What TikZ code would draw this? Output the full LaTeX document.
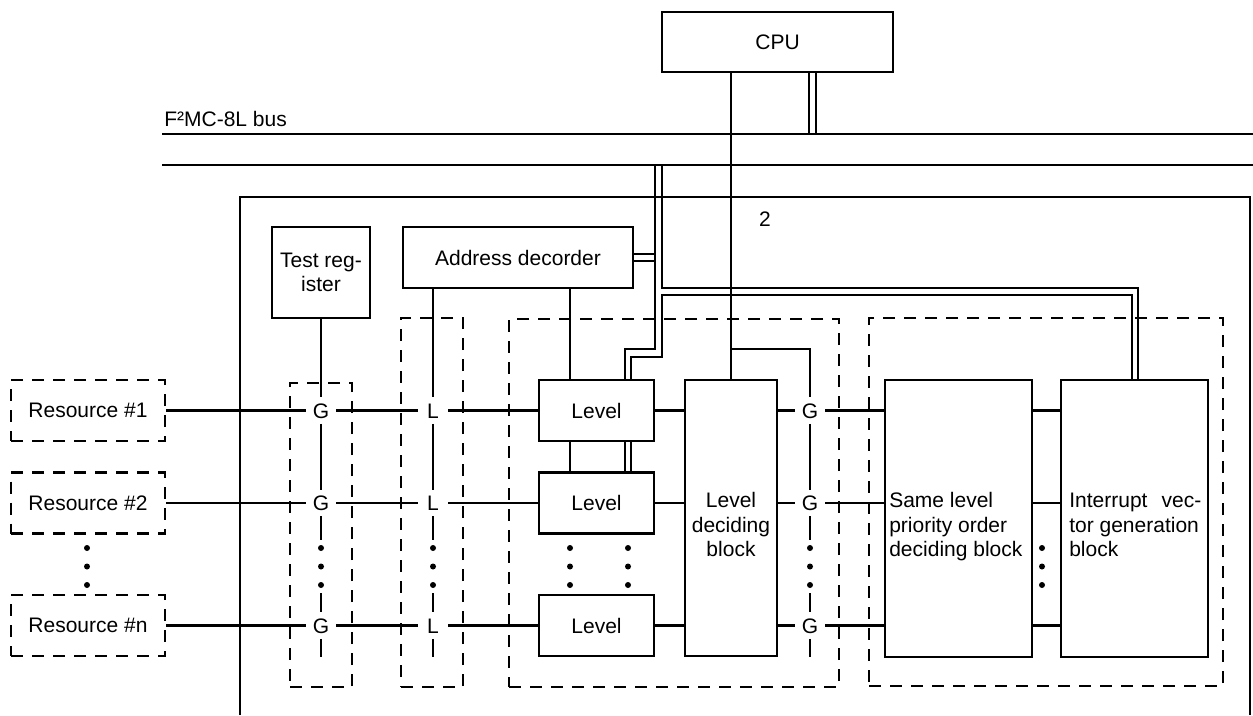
\documentclass[tikz,border=0pt]{standalone}
\usepackage{fontspec}
\setmainfont{Liberation Sans}
\begin{document}
\begin{tikzpicture}[x=1pt,y=-1pt,line width=2.6pt,line join=miter,
  font=\fontsize{21}{24.5}\selectfont,
  box/.style={draw,rectangle,inner sep=0pt},
  dbox/.style={draw,rectangle,inner sep=0pt,dash pattern=on 12pt off 9pt},
  gl/.style={inner sep=0pt,minimum width=28pt,minimum height=24pt,text height=15pt,text depth=0pt},
  txt/.style={inner sep=0pt}]
\useasboundingbox (0,0) rectangle (1253,715);

% ---------- dashed containers ----------
\node[dbox,minimum width=154pt,minimum height=61pt] (res1) at (88,410.5) {Resource \#1\hspace{8pt}};
\node[dbox,minimum width=154pt,minimum height=61pt] (res2) at (88,503) {Resource \#2\hspace{8pt}};
\node[dbox,minimum width=154pt,minimum height=61pt] (res3) at (88,625.5) {Resource \#n\hspace{8pt}};
\node[dbox,minimum width=62pt,minimum height=304pt] (gbox) at (321,535) {};
\node[dbox,minimum width=62pt,minimum height=369pt] (lbox) at (432,502.5) {};
\node[dbox,minimum width=330pt,minimum height=368pt] (lvbox) at (674,503) {};
\node[dbox,minimum width=354pt,minimum height=368pt] (rbox) at (1046,502) {};

% ---------- bus ----------
\coordinate (b1w) at (162,134); \coordinate (b1e) at (1253,134);
\coordinate (b2w) at (162,165); \coordinate (b2e) at (1253,165);
\draw (b1w) -- (b1e);
\draw (b2w) -- (b2e);
\node[txt,anchor=base west] (buslbl) at (163,126) {F²MC-8L bus};

% ---------- CPU ----------
\node[box,minimum width=231pt,minimum height=60pt] (cpu) at (777.5,42) {CPU};
\coordinate (cd1) at (809,134); \coordinate (cd2) at (816,134);
\draw (cpu.south -| cd1) -- (cd1);
\draw (cpu.south -| cd2) -- (cd2);

% ---------- outer box ----------
\coordinate (ob1) at (240,715); \coordinate (ob2) at (240,197);
\coordinate (ob3) at (1250,197); \coordinate (ob4) at (1250,715);
\draw (ob1) -- (ob2) -- (ob3) -- (ob4);

% ---------- solid blocks ----------
\node[box,minimum width=230pt,minimum height=61pt] (adec) at (518,257.5) {Address decorder\hspace{11pt}};
\node[box,minimum width=98pt,minimum height=91pt,align=center] (treg) at (321,272.5) {Test reg-\\ister};
\node[box,minimum width=115pt,minimum height=61pt] (lv1) at (596.5,410.5) {Level};
\node[box,minimum width=115pt,minimum height=61pt] (lv2) at (596.5,503) {Level};
\node[box,minimum width=115pt,minimum height=61pt] (lv3) at (596.5,625.5) {Level};
\node[box,minimum width=92pt,minimum height=276pt] (ldb) at (731,518) {};
\node[box,minimum width=147pt,minimum height=277pt] (slb) at (958.5,518.5) {};
\node[box,minimum width=147pt,minimum height=277pt] (ivb) at (1134.5,518.5) {};
\node[txt,anchor=base,align=center] (ldbt) at (731,556.5) {Level\\deciding\\block};
\node[txt,anchor=base west,align=left] (slbt) at (888,556.5) {Same level\\priority order\\deciding block};
\node[txt,anchor=base west,align=left] (ivbt) at (1068,556.5) {\hbox to 132pt{Interrupt\hfil vec-}\\tor generation\\block};
\node[txt] (two) at (765,219) {2};

% ---------- gates ----------
\node[gl] (ga1) at (321,410.5) {G};
\node[gl] (ga2) at (321,503) {G};
\node[gl] (ga3) at (321,625.5) {G};
\node[gl] (la1) at (433,410.5) {L};
\node[gl] (la2) at (433,503) {L};
\node[gl] (la3) at (433,625.5) {L};
\node[gl] (gb1) at (810,410.5) {G};
\node[gl] (gb2) at (810,503) {G};
\node[gl] (gb3) at (810,625.5) {G};

% ---------- rows ----------
\foreach \i in {1,2,3}{
  \draw (res\i.east) -- (ga\i.west);
  \draw (ga\i.east) -- (la\i.west);
  \draw (la\i.east) -- (lv\i.west);
  \draw (lv\i.east) -- (ldb.west |- lv\i.east);
  \draw (ldb.east |- lv\i.east) -- (gb\i.west);
  \draw (gb\i.east) -- (slb.west |- gb\i.east);
  \draw (slb.east |- gb\i.east) -- (ivb.west |- gb\i.east);
}

% ---------- vertical columns ----------
\draw (treg.south) -- (ga1.north);
\draw (adec.south -| la1) -- (la1.north);
\coordinate (brl) at (731,349); \coordinate (brc) at (810,349);
\draw (cpu.south -| ldb.north) -- (ldb.north);
\draw (brl) -- (brc) -- (gb1.north);
\foreach \c/\x in {ga/321,la/433,gb/810}{
  \coordinate (\c top) at (\x,540);
  \coordinate (\c bot) at (\x,593);
  \coordinate (\c end) at (\x,657);
  \draw (\c1.south) -- (\c2.north);
  \draw (\c2.south) -- (\c top);
  \draw (\c bot) -- (\c3.north);
  \draw (\c3.south) -- (\c end);
}

% ---------- address decoder / level links ----------
\coordinate (lx) at (570,300);
\draw (adec.south -| lx) -- (lv1.north -| lx);
\draw (lv1.south -| lx) -- (lv2.north -| lx);

% ---------- double buses ----------
\coordinate (da1) at (655,165); \coordinate (da2) at (655,349); \coordinate (da3) at (625,349);
\draw (da1) -- (da2) -- (da3) -- (lv1.north -| da3);
\coordinate (db1) at (662,165); \coordinate (db2) at (662,288); \coordinate (db3) at (1138,288);
\draw (db1) -- (db2) -- (db3) -- (ivb.north -| db3);
\coordinate (dc1) at (1132,295); \coordinate (dc2) at (662,295);
\coordinate (dc3) at (662,357); \coordinate (dc4) at (631,357);
\draw (ivb.north -| dc1) -- (dc1) -- (dc2) -- (dc3) -- (dc4) -- (lv1.north -| dc4);
\coordinate (s1) at (655,254); \coordinate (s2) at (655,261);
\draw (adec.east |- s1) -- (s1);
\draw (adec.east |- s2) -- (s2);
\draw (lv1.south -| da3) -- (lv2.north -| da3);
\draw (lv1.south -| dc4) -- (lv2.north -| dc4);

% ---------- dots ----------
\foreach \x in {87,321,433,570,628,810,1042}
  \foreach \y in {548,566.5,585}
    \fill (\x,\y) circle (3);
\end{tikzpicture}
\end{document}
